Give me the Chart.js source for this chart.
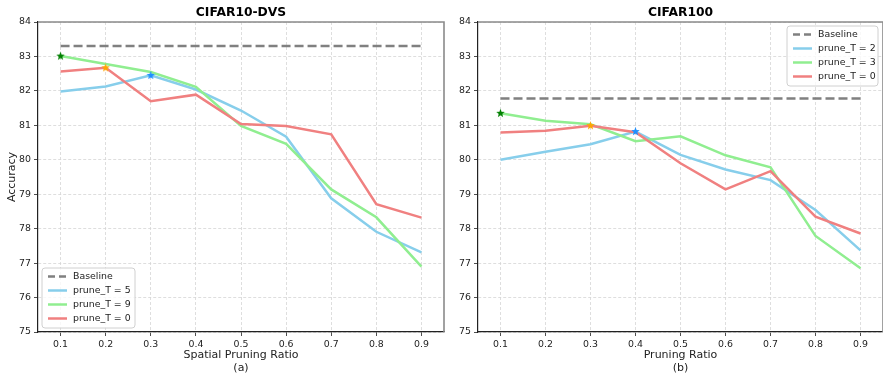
<!DOCTYPE html>
<html>
<head>
<meta charset="utf-8">
<script src="https://cdn.jsdelivr.net/npm/chart.js@4.4.0/dist/chart.umd.min.js"></script>
<style>
  html, body { margin: 0; padding: 0; background: #fff; }
  body { width: 883px; height: 375px; position: relative; overflow: hidden; }
  canvas { position: absolute; top: 0; }
  #chartA { left: 0; }
  #chartB { left: 440px; }
</style>
</head>
<body>
<canvas id="chartA" width="446" height="375"></canvas>
<canvas id="chartB" width="443" height="375"></canvas>
<script>
// x positions (pruning ratio) and y ticks
const ratios = [0.1, 0.2, 0.3, 0.4, 0.5, 0.6, 0.7, 0.8, 0.9];
const accTicks = [75, 76, 77, 78, 79, 80, 81, 82, 83, 84];

// (a) CIFAR10-DVS
const dvsBaseline = 83.3;
const dvsT5 = [81.98, 82.13, 82.45, 82.04, 81.43, 80.67, 78.88, 77.91, 77.31];
const dvsT9 = [83.01, 82.78, 82.55, 82.12, 80.98, 80.46, 79.14, 78.33, 76.90];
const dvsT0 = [82.56, 82.67, 81.70, 81.89, 81.04, 80.98, 80.74, 78.71, 78.32];
const dvsLabels = ['Baseline', 'prune_T = 5', 'prune_T = 9', 'prune_T = 0'];

// (b) CIFAR100
const c100Baseline = 81.78;
const c100T2 = [80.00, 80.23, 80.45, 80.82, 80.14, 79.72, 79.41, 78.54, 77.37];
const c100T3 = [81.35, 81.13, 81.03, 80.54, 80.68, 80.13, 79.78, 77.79, 76.85];
const c100T0 = [80.79, 80.84, 80.99, 80.80, 79.90, 79.14, 79.67, 78.35, 77.86];
const c100Labels = ['Baseline', 'prune_T = 2', 'prune_T = 3', 'prune_T = 0'];

const BLUE = '#87ceeb', GREEN = '#90ee90', RED = '#f08080', GRAY = '#808080';
const FONT = 'DejaVu Sans';
Chart.defaults.font.family = FONT;

// filled 5-point star used as point style for the best points
function starImage(color, r) {
  const c = document.createElement('canvas');
  const s = Math.ceil(r * 2 + 2);
  c.width = c.height = s;
  const g = c.getContext('2d');
  g.beginPath();
  for (let i = 0; i < 10; i++) {
    const rad = i % 2 ? r * 0.42 : r;
    const a = -Math.PI / 2 + i * Math.PI / 5;
    g.lineTo(s / 2 + rad * Math.cos(a), s / 2 + rad * Math.sin(a));
  }
  g.closePath();
  g.fillStyle = color;
  g.fill();
  return c;
}

const toPoints = vals => vals.map((v, i) => ({ x: ratios[i], y: v }));

// top / right spines in gray
const framePlugin = {
  id: 'frame',
  beforeDatasetsDraw(chart) {
    const { ctx, chartArea: a } = chart;
    ctx.save();
    ctx.strokeStyle = '#8a8a8a';
    ctx.lineWidth = 1.6;
    ctx.beginPath();
    ctx.moveTo(a.left, a.top);
    ctx.lineTo(a.right, a.top);
    ctx.lineTo(a.right, a.bottom);
    ctx.stroke();
    ctx.restore();
  }
};

// panel title centred over the plot area
const panelTitlePlugin = {
  id: 'panelTitle',
  afterDraw(chart, args, opts) {
    const { ctx, chartArea: a } = chart;
    ctx.save();
    ctx.font = 'bold 12.3px ' + FONT;
    ctx.fillStyle = '#000';
    ctx.textAlign = 'center';
    ctx.textBaseline = 'middle';
    ctx.fillText(opts.text, (a.left + a.right) / 2, 12.5);
    ctx.restore();
  }
};

// matplotlib-like legend box inside the plot
const boxLegendPlugin = {
  id: 'boxLegend',
  afterDraw(chart, args, opts) {
    const { ctx, chartArea: a } = chart;
    const rowH = 14, w = opts.width, h = 60;
    const x0 = opts.corner === 'bottom-left' ? a.left + 4 : a.right - 5 - w;
    const y0 = opts.corner === 'bottom-left' ? a.bottom - 4 - h : a.top + 4;
    ctx.save();
    ctx.beginPath();
    ctx.roundRect(x0, y0, w, h, 3);
    ctx.fillStyle = 'rgba(255,255,255,0.8)';
    ctx.fill();
    ctx.strokeStyle = '#d0d0d0';
    ctx.lineWidth = 1;
    ctx.stroke();
    ctx.font = '9.4px ' + FONT;
    ctx.textBaseline = 'middle';
    opts.labels.forEach((lab, i) => {
      const cy = y0 + 8.5 + i * rowH;
      ctx.beginPath();
      ctx.setLineDash(i === 0 ? [7, 4] : []);
      ctx.strokeStyle = opts.colors[i];
      ctx.lineWidth = 2.5;
      ctx.moveTo(x0 + 6, cy);
      ctx.lineTo(x0 + 25, cy);
      ctx.stroke();
      ctx.setLineDash([]);
      ctx.fillStyle = '#222';
      ctx.fillText(lab, x0 + 31, cy);
    });
    ctx.restore();
  }
};

function makePanel(id, o) {
  const lineDs = (data, color, order) => ({
    data: toPoints(data), borderColor: color, backgroundColor: color,
    borderWidth: 2.5, pointRadius: 0, tension: 0, order: order
  });
  const starDs = (series, idx, color) => ({
    data: [{ x: ratios[idx], y: series[idx] }], showLine: false,
    pointStyle: starImage(color, 4.5), pointRadius: 4, order: 0
  });
  new Chart(document.getElementById(id), {
    type: 'scatter',
    data: {
      datasets: [
        starDs(o.stars[0][0], o.stars[0][1], '#008000'),
        starDs(o.stars[1][0], o.stars[1][1], '#ffa500'),
        starDs(o.stars[2][0], o.stars[2][1], '#1e90ff'),
        lineDs(o.series[2], RED, 1),
        lineDs(o.series[1], GREEN, 2),
        lineDs(o.series[0], BLUE, 3),
        Object.assign(lineDs([o.baseline, o.baseline], GRAY, 4), {
          data: [{ x: ratios[0], y: o.baseline }, { x: ratios[ratios.length - 1], y: o.baseline }],
          borderDash: [9, 4]
        })
      ]
    },
    options: {
      responsive: false,
      animation: false,
      showLine: true,
      layout: { autoPadding: false, padding: { top: 22, right: o.padRight, left: 0, bottom: 0 } },
      plugins: {
        legend: { display: false },
        tooltip: { enabled: false },
        panelTitle: { text: o.title },
        boxLegend: { labels: o.labels, colors: [GRAY, BLUE, GREEN, RED], corner: o.corner, width: o.legendWidth }
      },
      scales: {
        x: {
          type: 'linear', min: 0.05, max: 0.95,
          afterBuildTicks: s => { s.ticks = ratios.map(v => ({ value: v })); },
          afterFit: s => { s.height = 43; s.paddingLeft = 0; s.paddingRight = 0; },
          ticks: { autoSkip: false, padding: 3, color: '#222', font: { size: 9.4 },
                   callback: v => v.toFixed(1) },
          grid: { color: '#d6d6d6', lineWidth: 0.8, tickColor: '#222', tickLength: 4 },
          border: { color: '#222', width: 1.2, dash: [3, 2] },
          title: { display: true, text: [o.xTitle, o.tag], color: '#222',
                   font: { size: 11, lineHeight: 1.2 }, padding: { top: 0, bottom: 0 } }
        },
        y: {
          min: 75, max: 84,
          afterBuildTicks: s => { s.ticks = accTicks.map(v => ({ value: v })); },
          afterFit: s => { s.width = 38; },
          ticks: { padding: 3, color: '#222', font: { size: 9.4 } },
          grid: { color: '#d6d6d6', lineWidth: 0.8, tickColor: '#222', tickLength: 4 },
          border: { color: '#222', width: 1.2, dash: [3, 2] },
          title: { display: o.yTitle !== '', text: o.yTitle, color: '#222',
                   font: { size: 11, lineHeight: 1.2 }, padding: { top: 6, bottom: 0 } }
        }
      }
    },
    plugins: [framePlugin, panelTitlePlugin, boxLegendPlugin]
  });
}

makePanel('chartA', {
  title: 'CIFAR10-DVS', xTitle: 'Spatial Pruning Ratio', tag: '(a)', yTitle: 'Accuracy',
  baseline: dvsBaseline, series: [dvsT5, dvsT9, dvsT0],
  stars: [[dvsT9, 0], [dvsT0, 1], [dvsT5, 2]],
  labels: dvsLabels, corner: 'bottom-left', legendWidth: 93, padRight: 2
});

makePanel('chartB', {
  title: 'CIFAR100', xTitle: 'Pruning Ratio', tag: '(b)', yTitle: '',
  baseline: c100Baseline, series: [c100T2, c100T3, c100T0],
  stars: [[c100T3, 0], [c100T0, 2], [c100T2, 3]],
  labels: c100Labels, corner: 'top-right', legendWidth: 91, padRight: 0
});
</script>
</body>
</html>
